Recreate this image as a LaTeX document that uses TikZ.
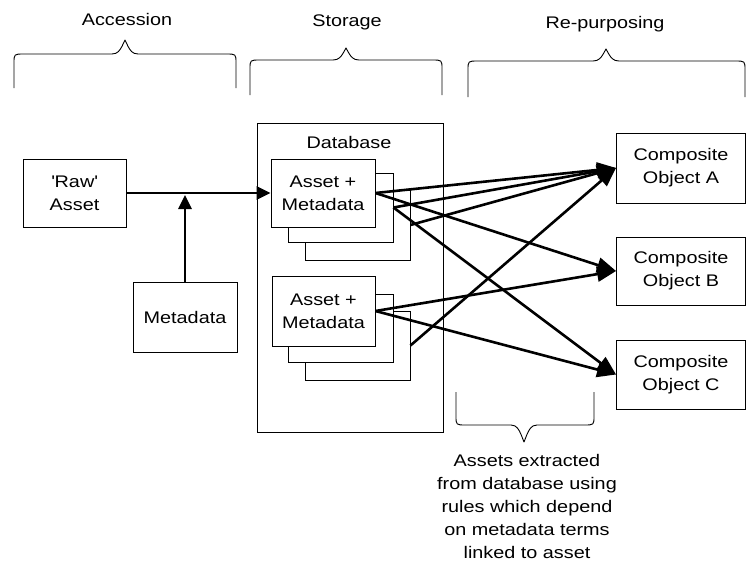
\documentclass[tikz,border=0pt]{standalone}
\usepackage{fontspec}
\setmainfont{Liberation Sans}[FakeStretch=1.18]
\usetikzlibrary{arrows.meta}
\newcommand\lbl{\fontsize{16.8}{23.3}\selectfont}
\newcommand\notefont{\fontsize{16.8}{23}\selectfont}
\newcommand{\mybrace}[7]{%
  \draw[thinline] (#1,#4) -- (#1,{#5+#7}) .. controls (#1,#5) .. ({#1+10},#5)
    -- ({#3-13},#5) .. controls ({#3-7},#5) and ({#3-5},{#5+0.3*(#6-#5)}) .. ({#3-3},{#5+0.55*(#6-#5)})
    -- (#3,#6) -- ({#3+3},{#5+0.55*(#6-#5)}) .. controls ({#3+5},{#5+0.3*(#6-#5)}) and ({#3+7},#5) .. ({#3+13},#5)
    -- ({#2-10},#5) .. controls (#2,#5) .. (#2,{#5+#7}) -- (#2,#4);}
\tikzset{
  thinline/.style={line width=0.9pt, line join=round},
  box/.style={draw, line width=0.9pt, fill=white, inner sep=0pt, align=center, font=\lbl},
  label/.style={font=\lbl, inner sep=0pt},
  flow/.style={line width=2.6pt, -{Triangle[length=14pt,width=13pt]}},
  big/.style={line width=2.6pt, -{Triangle[length=19pt,width=15pt]}},
}
\begin{document}
\begin{tikzpicture}[x=1pt,y=-1pt]
\useasboundingbox (0,0) rectangle (747,562);

% titles and braces
\node[label, anchor=base] (tacc) at (127,25) {Accession};
\node[label, anchor=base] (tsto) at (347,26) {Storage};
\node[label, anchor=base] (trep) at (605,28) {Re-purposing};
\mybrace{14}{236}{125}{88}{54}{40}{9}
\mybrace{250}{442}{346}{95}{60}{48}{9}
\mybrace{468}{745}{606}{97}{61}{49}{9}

% accession
\node[box, minimum width=103pt, minimum height=68pt] (raw) at (74.5,193) {\textquotesingle Raw\textquotesingle\\Asset};
\node[box, minimum width=104pt, minimum height=70pt] (meta) at (185,317) {Metadata};

% storage
\node[box, minimum width=186pt, minimum height=309pt] (db) at (350,277.5) {};
\node[label, anchor=base] (dbl) at (349,148) {Database};

\node[box, minimum width=105pt, minimum height=70pt] (u3) at (357.5,225) {};
\node[box, minimum width=105pt, minimum height=69pt] (u2) at (340.5,207.5) {};
\node[box, minimum width=104pt, minimum height=68pt] (u1) at (323,193) {Asset +\\Metadata};

\node[box, minimum width=105pt, minimum height=69pt] (l3) at (357.5,345.5) {};
\node[box, minimum width=105pt, minimum height=68pt] (l2) at (340.5,328) {};
\node[box, minimum width=103pt, minimum height=70pt] (l1) at (323.5,311) {Asset +\\Metadata};

% re-purposing
\node[box, minimum width=129pt, minimum height=70pt] (ca) at (681,168) {Composite\\Object A};
\node[box, minimum width=129pt, minimum height=68pt] (cb) at (681,271) {Composite\\Object B};
\node[box, minimum width=129pt, minimum height=69pt] (cc) at (681,374.5) {Composite\\Object C};

% accession arrows
\coordinate (join) at (185,195);
\draw[flow] (raw.east) -- (u1.west);
\draw[flow] (meta.north) -- (join);

% extraction arrows
\draw[big] (u1.east) -- (ca.west);
\draw[big] (u1.east) -- (cb.west);
\draw[big] (u2.east) -- (ca.west);
\draw[big] (u2.east) -- (cc.west);
\draw[big] (u3.east) -- (ca.west);
\draw[big] (l1.east) -- (cb.west);
\draw[big] (l1.east) -- (cc.west);
\draw[big] (l3.east) -- (ca.west);

% bottom note
\mybrace{456}{594}{524}{392}{425}{442}{-9}
\node[font=\notefont, inner sep=0pt, align=center] (note) at (527,506) {Assets extracted\\from database using\\rules which depend\\on metadata terms\\linked to asset};
\end{tikzpicture}
\end{document}
